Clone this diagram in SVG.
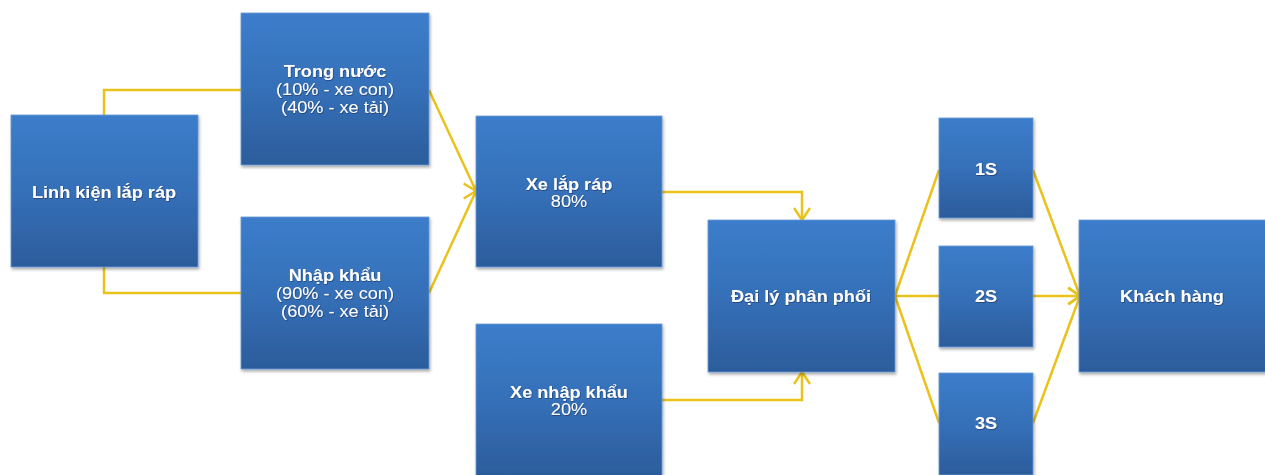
<svg xmlns="http://www.w3.org/2000/svg" width="1265" height="475" viewBox="0 0 1265 475">
<defs>
<linearGradient id="g" x1="0" y1="0" x2="0" y2="1">
<stop offset="0" stop-color="#3C7DCB"/>
<stop offset="0.5" stop-color="#3570B8"/>
<stop offset="1" stop-color="#2C5C9B"/>
</linearGradient>
<filter id="sh" x="-10%" y="-10%" width="125%" height="125%">
<feDropShadow dx="1" dy="2" stdDeviation="1.5" flood-color="#000" flood-opacity="0.35"/>
</filter>
<filter id="ts" x="-5%" y="-20%" width="110%" height="150%">
<feDropShadow dx="0.6" dy="0.8" stdDeviation="0.5" flood-color="#0A2448" flood-opacity="0.6"/>
</filter>
<marker id="ar" markerWidth="16" markerHeight="18" refX="13" refY="9" orient="auto" markerUnits="userSpaceOnUse">
<path d="M1,1 L13,9 L1,17" fill="none" stroke="#EAC21C" stroke-width="2.5"/>
</marker>
</defs>
<style>
.box{fill:url(#g);stroke:#6A9AD6;stroke-width:0.8;filter:url(#sh)}
.t{font-family:"Liberation Sans",Arial,sans-serif;font-size:16.5px;fill:#fff;text-anchor:middle;filter:url(#ts)}
.b{font-weight:bold}
.c{fill:none;stroke:#EAC21C;stroke-width:2.5}
</style>
<rect width="1265" height="475" fill="#fff"/>
<g id="connectors">
<polyline class="c" points="104,115 104,90 241,90"/>
<polyline class="c" points="104,267 104,293 241,293"/>
<line class="c" x1="429" y1="90" x2="476" y2="191" marker-end="url(#ar)"/>
<line class="c" x1="429" y1="293" x2="476" y2="191" marker-end="url(#ar)"/>
<polyline class="c" points="662,192 802,192 802,220" marker-end="url(#ar)"/>
<polyline class="c" points="662,400 802,400 802,372" marker-end="url(#ar)"/>
<line class="c" x1="895" y1="296" x2="939" y2="170"/>
<line class="c" x1="895" y1="296" x2="939" y2="296"/>
<line class="c" x1="895" y1="296" x2="939" y2="423"/>
<line class="c" x1="1033" y1="170" x2="1080" y2="296" marker-end="url(#ar)"/>
<line class="c" x1="1033" y1="296" x2="1080" y2="296" marker-end="url(#ar)"/>
<line class="c" x1="1033" y1="423" x2="1080" y2="296" marker-end="url(#ar)"/>
</g>
<g id="linh-kien">
<rect class="box" x="11" y="115" width="187" height="152"/>
<g transform="translate(104,0) scale(1.1,1)"><text class="t b" x="0" y="198">Linh kiện lắp ráp</text></g>
</g>
<g id="trong-nuoc">
<rect class="box" x="241" y="13" width="188" height="152"/>
<g transform="translate(335,0) scale(1.1,1)">
<text class="t b" x="0" y="77">Trong nước</text>
<text class="t" x="0" y="95">(10% - xe con)</text>
<text class="t" x="0" y="113">(40% - xe tải)</text>
</g>
</g>
<g id="nhap-khau">
<rect class="box" x="241" y="217" width="188" height="152"/>
<g transform="translate(335,0) scale(1.1,1)">
<text class="t b" x="0" y="281">Nhập khẩu</text>
<text class="t" x="0" y="299">(90% - xe con)</text>
<text class="t" x="0" y="317">(60% - xe tải)</text>
</g>
</g>
<g id="xe-lap-rap">
<rect class="box" x="476" y="116" width="186" height="151"/>
<g transform="translate(569,0) scale(1.1,1)">
<text class="t b" x="0" y="190">Xe lắp ráp</text>
<text class="t" x="0" y="207">80%</text>
</g>
</g>
<g id="xe-nhap-khau">
<rect class="box" x="476" y="324" width="186" height="152"/>
<g transform="translate(569,0) scale(1.1,1)">
<text class="t b" x="0" y="398">Xe nhập khẩu</text>
<text class="t" x="0" y="415">20%</text>
</g>
</g>
<g id="dai-ly">
<rect class="box" x="708" y="220" width="187" height="152"/>
<g transform="translate(801,0) scale(1.1,1)"><text class="t b" x="0" y="302">Đại lý phân phối</text></g>
</g>
<g id="s1">
<rect class="box" x="939" y="118" width="94" height="100"/>
<g transform="translate(986,0) scale(1.1,1)"><text class="t b" x="0" y="175">1S</text></g>
</g>
<g id="s2">
<rect class="box" x="939" y="246" width="94" height="101"/>
<g transform="translate(986,0) scale(1.1,1)"><text class="t b" x="0" y="302">2S</text></g>
</g>
<g id="s3">
<rect class="box" x="939" y="373" width="94" height="102"/>
<g transform="translate(986,0) scale(1.1,1)"><text class="t b" x="0" y="429">3S</text></g>
</g>
<g id="khach-hang">
<rect class="box" x="1079" y="220" width="190" height="152"/>
<g transform="translate(1172,0) scale(1.1,1)"><text class="t b" x="0" y="302">Khách hàng</text></g>
</g>
</svg>
